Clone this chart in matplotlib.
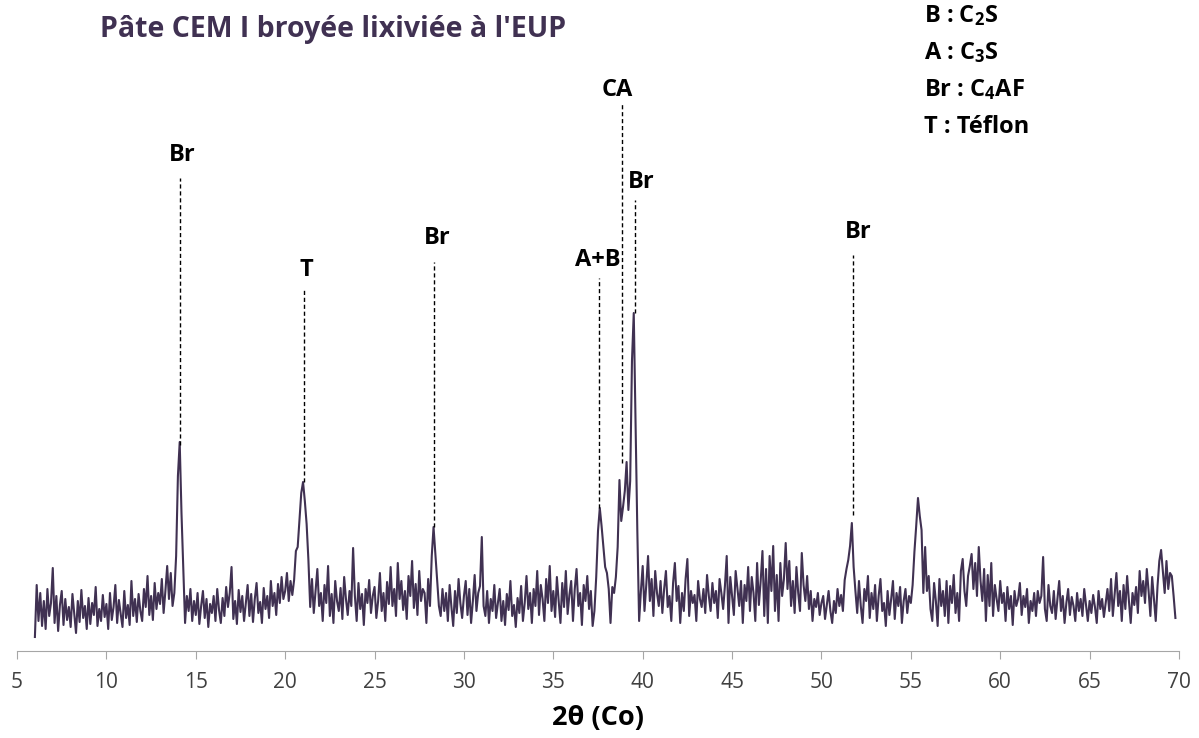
import numpy as np
import matplotlib
matplotlib.use("Agg")
import matplotlib.pyplot as plt

plt.rcParams["font.family"] = ["Open Sans", "DejaVu Sans"]
plt.rcParams["mathtext.fontset"] = "custom"
plt.rcParams["mathtext.rm"] = "Open Sans:bold"
plt.rcParams["mathtext.default"] = "rm"

# XRD scan, 2theta from 6.0 in 0.1 deg steps (intensity in arbitrary units)
two_theta_start = 6.0
two_theta_step = 0.1
intensity = [
    14, 66, 30, 58, 25, 50, 22, 62, 35, 48,       # 6
    83, 28, 55, 20, 46, 60, 26, 52, 31, 44,       # 7
    24, 57, 38, 18, 50, 29, 61, 33, 45, 22,       # 8
    53, 27, 48, 36, 64, 25, 42, 30, 56, 34,       # 9
    47, 22, 58, 31, 44, 66, 28, 51, 37, 24,       # 10
    60, 33, 46, 26, 70, 35, 52, 29, 57, 40,       # 11
    30, 62, 44, 75, 36, 55, 31, 68, 42, 58,       # 12
    47, 72, 38, 60, 85, 52, 78, 45, 58, 95,       # 13
    175, 209, 138, 84, 28, 55, 40, 62, 30, 50,    # 14
    36, 58, 27, 45, 60, 33, 52, 24, 47, 38,       # 15
    55, 30, 62, 41, 28, 53, 35, 64, 44, 58,       # 16
    84, 32, 50, 27, 61, 39, 55, 30, 48, 66,       # 17
    35, 57, 29, 52, 68, 38, 49, 28, 63, 42,       # 18
    55, 33, 70, 45, 58, 36, 67, 48, 74, 52,       # 19
    60, 78, 50, 70, 56, 71, 100, 104, 131, 158,   # 20
    169, 150, 127, 91, 44, 72, 38, 60, 82, 45,    # 21
    58, 30, 66, 48, 85, 35, 57, 28, 70, 50,       # 22
    40, 63, 32, 74, 52, 36, 60, 45, 103, 55,      # 23
    30, 68, 42, 57, 26, 62, 48, 71, 38, 55,       # 24
    64, 33, 50, 78, 40, 58, 30, 69, 47, 84,       # 25
    45, 62, 35, 88, 52, 70, 41, 60, 32, 75,       # 26
    55, 90, 43, 67, 36, 80, 50, 62, 58, 28,       # 27
    72, 45, 95, 124, 98, 71, 45, 35, 62, 40,      # 28
    58, 30, 66, 44, 25, 60, 38, 72, 48, 33,       # 29
    55, 70, 36, 62, 28, 50, 76, 40, 58, 65,       # 30
    114, 45, 35, 60, 28, 52, 40, 66, 33, 48,      # 31
    62, 30, 50, 26, 57, 41, 70, 35, 46, 24,       # 32
    53, 38, 65, 30, 48, 75, 42, 58, 28, 62,       # 33
    45, 80, 36, 66, 52, 30, 72, 48, 85, 40,       # 34
    60, 34, 74, 50, 28, 68, 44, 80, 37, 56,       # 35
    70, 30, 62, 82, 45, 58, 26, 66, 50, 75,       # 36
    42, 60, 25, 40, 74, 120, 143, 125, 104, 84,   # 37
    78, 62, 28, 64, 58, 74, 104, 171, 130, 144,   # 38
    160, 189, 141, 170, 290, 338, 230, 120, 30, 60,  # 39
    85, 40, 66, 95, 50, 72, 35, 80, 58, 45,       # 40
    70, 38, 62, 80, 44, 55, 30, 68, 88, 50,       # 41
    65, 28, 58, 40, 72, 92, 35, 60, 48, 56,       # 42
    30, 70, 52, 44, 62, 38, 76, 55, 40, 68,       # 43
    48, 60, 33, 72, 58, 42, 65, 95, 28, 74,       # 44
    55, 36, 80, 62, 45, 70, 28, 66, 50, 84,       # 45
    40, 74, 58, 30, 88, 46, 70, 100, 35, 82,      # 46
    28, 95, 60, 105, 40, 76, 30, 88, 55, 72,      # 47
    108, 62, 90, 45, 70, 38, 84, 58, 40, 98,      # 48
    66, 50, 75, 42, 60, 30, 52, 44, 58, 36,       # 49
    48, 55, 32, 46, 60, 40, 28, 50, 38, 62,       # 50
    45, 56, 40, 71, 82, 91, 105, 128, 84, 60,     # 51
    38, 70, 45, 28, 62, 50, 75, 33, 58, 42,       # 52
    66, 30, 55, 72, 40, 48, 25, 60, 36, 52,       # 53
    70, 32, 58, 45, 64, 28, 50, 62, 38, 55,       # 54
    48, 66, 99, 125, 153, 135, 121, 58, 104, 60,  # 55
    75, 42, 30, 68, 50, 25, 72, 45, 60, 35,       # 56
    70, 28, 65, 48, 76, 38, 58, 30, 80, 92,       # 57
    60, 45, 75, 85, 97, 62, 88, 55, 104, 70,      # 58
    50, 82, 30, 76, 45, 88, 35, 66, 52, 40,       # 59
    70, 48, 58, 30, 64, 42, 55, 26, 60, 45,       # 60
    52, 68, 36, 55, 44, 62, 28, 50, 40, 58,       # 61
    35, 60, 48, 55, 94, 42, 30, 66, 45, 38,       # 62
    60, 32, 52, 70, 40, 55, 28, 48, 62, 36,       # 63
    54, 45, 30, 58, 40, 52, 35, 62, 46, 30,       # 64
    50, 38, 56, 44, 28, 60, 42, 52, 34, 48,       # 65
    62, 40, 72, 35, 56, 78, 45, 60, 30, 66,       # 66
    42, 75, 50, 28, 58, 46, 64, 38, 80, 55,       # 67
    70, 48, 82, 60, 35, 74, 52, 30, 65, 90,       # 68
    101, 80, 58, 90, 62, 78, 75, 55, 33,          # 69
]

# phase annotations: label, dashed-line position, line bottom/top, label anchor
peak_labels = ["Br", "T", "Br", "A+B", "CA", "Br", "Br"]
peak_pos = [14.12, 21.07, 28.34, 37.55, 38.82, 39.56, 51.77]
line_bottom = [206, 169, 124, 143, 188, 338, 136]
line_top = [473, 361, 389, 373, 548, 451, 396]
label_x = [14.23, 21.16, 28.49, 37.49, 38.56, 39.9, 52.04]
label_y = [496, 381, 413, 391, 561, 469, 419]

legend_lines = [r"B : C$_2$S", r"A : C$_3$S", r"Br : C$_4$AF", "T : Téflon"]

line_color = "#403152"
text_color = "#404040"

two_theta = two_theta_start + two_theta_step * np.arange(len(intensity))

fig = plt.figure(figsize=(11.99, 7.38), dpi=100)
ax = fig.add_axes([0.0142, 0.1179, 0.9691, 0.8821])
ax.plot(two_theta, intensity, color=line_color, lw=1.5)

for x, y0, y1 in zip(peak_pos, line_bottom, line_top):
    ax.plot([x, x], [y0, y1], color="black", lw=1.0, ls=(0, (3, 2)))
for lab, x, y in zip(peak_labels, label_x, label_y):
    ax.text(x, y, lab, ha="center", va="center", fontsize=17, fontweight="bold", color="black")

ax.set_xlim(5, 70)
ax.set_ylim(0, 651)
ax.set_xticks(np.arange(5, 71, 5))
ax.set_yticks([])
for side in ["left", "right", "top"]:
    ax.spines[side].set_visible(False)
ax.spines["bottom"].set_color("#a6a6a6")
ax.tick_params(axis="x", direction="out", length=6, color="#a6a6a6",
               labelsize=15, labelcolor=text_color, pad=9)
ax.set_xlabel("2θ (Co)", fontsize=19.5, fontweight="bold", color="black", labelpad=9)
ax.patch.set_visible(False)

fig.text(100 / 1199, 1 - 30 / 738, "Pâte CEM I broyée lixiviée à l'EUP",
         ha="left", va="center", fontsize=20.5, fontweight="bold", color=line_color)
for i, s in enumerate(legend_lines):
    fig.text(924 / 1199, 1 - (16 + 37 * i) / 738, s, ha="left", va="center",
             fontsize=17, fontweight="bold", color="black")

fig.savefig("out.png", dpi=100)
